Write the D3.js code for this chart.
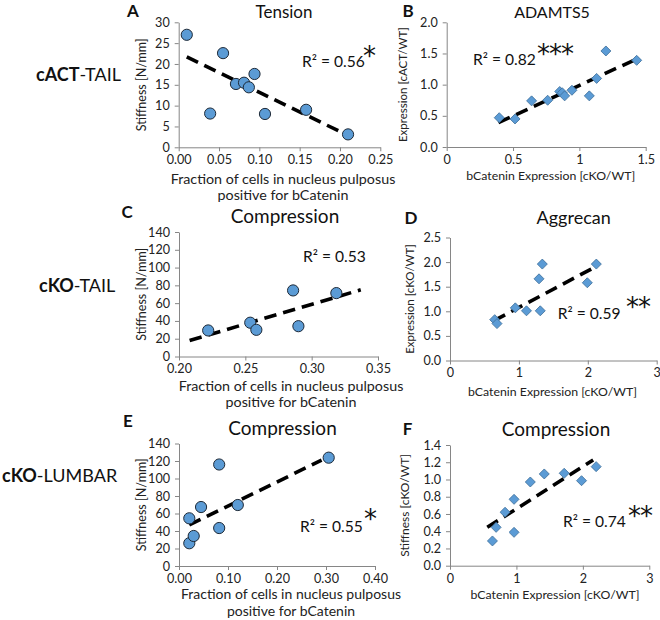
<!DOCTYPE html>
<html><head><meta charset="utf-8">
<script src="https://cdn.jsdelivr.net/npm/d3@7"></script>
<style>
body{margin:0;background:#fff;}
svg{display:block;font-family:Lato,"Open Sans",sans-serif;}
</style></head>
<body>
<svg id="c" width="660" height="620"></svg>
<script>
// ---- data ----
// Panel A: Tension (cACT-TAIL)
const aX = [0.010, 0.055, 0.039, 0.071, 0.081, 0.087, 0.094, 0.107, 0.158, 0.210];
const aY = [27.0, 22.6, 8.1, 15.2, 15.5, 14.4, 17.6, 8.0, 9.0, 3.1];
const aTrendX = [0.010, 0.205];
const aTrendY = [21.7, 3.3];
const aXTicks = [0, 0.05, 0.10, 0.15, 0.20, 0.25];
const aYTicks = [0, 5, 10, 15, 20, 25, 30];
// Panel B: ADAMTS5
const bX = [0.396, 0.515, 0.640, 0.761, 0.852, 0.871, 0.889, 0.944, 1.075, 1.130, 1.200, 1.432];
const bY = [0.47, 0.45, 0.74, 0.75, 0.89, 0.87, 0.82, 0.91, 0.82, 1.10, 1.54, 1.39];
const bTrendX = [0.39, 1.43];
const bTrendY = [0.39, 1.41];
const bXTicks = [0, 0.5, 1, 1.5];
const bYTicks = [0, 0.5, 1.0, 1.5, 2.0];
// Panel C: Compression (cKO-TAIL)
const cX = [0.222, 0.2537, 0.2583, 0.286, 0.290, 0.3186];
const cY = [29.3, 38, 30, 74.3, 34.1, 71.3];
const cTrendX = [0.208, 0.337];
const cTrendY = [18, 75];
const cXTicks = [0.20, 0.25, 0.30, 0.35];
const cYTicks = [0, 20, 40, 60, 80, 100, 120, 140];
// Panel D: Aggrecan
const dX = [0.649, 0.682, 0.948, 1.110, 1.310, 1.292, 1.340, 1.993, 2.124];
const dY = [0.83, 0.75, 1.07, 1.01, 1.01, 1.66, 1.96, 1.58, 1.96];
const dTrendX = [0.639, 2.105];
const dTrendY = [0.81, 1.90];
const dXTicks = [0, 1, 2, 3];
const dYTicks = [0, 0.5, 1.0, 1.5, 2.0, 2.5];
// Panel E: Compression (cKO-LUMBAR)
const eX = [0.021, 0.021, 0.030, 0.045, 0.082, 0.082, 0.120, 0.3055];
const eY = [54.5, 26, 34.3, 67.4, 116, 43.4, 69.7, 123.8];
const eTrendX = [0.021, 0.291];
const eTrendY = [46.9, 121];
const eXTicks = [0, 0.10, 0.20, 0.30, 0.40];
const eYTicks = [0, 20, 40, 60, 80, 100, 120, 140];
// Panel F: Compression stiffness ratio
const fX = [0.639, 0.694, 0.829, 0.964, 0.964, 1.209, 1.419, 1.719, 1.980, 2.200];
const fY = [0.287, 0.445, 0.62, 0.77, 0.387, 0.971, 1.064, 1.072, 0.986, 1.149];
const fTrendX = [0.561, 2.155];
const fTrendY = [0.445, 1.226];
const fXTicks = [0, 1, 2, 3];
const fYTicks = [0, 0.2, 0.4, 0.6, 0.8, 1.0, 1.2, 1.4];

const titles = ["Tension", "ADAMTS5", "Compression", "Aggrecan", "Compression", "Compression"];
const letters = ["A", "B", "C", "D", "E", "F"];
const r2Labels = ["R\u00B2 = 0.56", "R\u00B2 = 0.82", "R\u00B2 = 0.53", "R\u00B2 = 0.59", "R\u00B2 = 0.55", "R\u00B2 = 0.74"];
const stars = ["*", "***", "", "**", "*", "**"];
const yLabels = ["Stiffness [N/mm]", "Expression [cACT/WT]", "Stiffness [N/mm]", "Expression [cKO/WT]", "Stiffness [N/mm]", "Stiffness [cKO/WT]"];
const xLabelFraction = ["Fraction of cells in nucleus pulposus", "positive for bCatenin"];
const xLabelExpr = ["bCatenin Expression [cKO/WT]"];
const rowBold = ["cACT", "cKO", "cKO"];
const rowRest = ["-TAIL", "-TAIL", "-LUMBAR"];

// ---- layout ----
const svg = d3.select("#c");
const BLUE = "#5b9bd5";
const AXIS = "#868686";

const panels = [
  {xs:aX, ys:aY, tx:aTrendX, ty:aTrendY, xt:aXTicks, yt:aYTicks, xd:[0,0.25], yd:[0,30],
   px:[178.7,380.3], py:[147.3,22.3], xf:d3.format(".2f"), yf:d3.format("d"), mark:"circle",
   title:[284,11.5,17], letter:[133,11], r2:[302,61], star:[363,51], yl:[141,12.5], xl:xLabelFraction, xlp:[283,179,195], xls:14.3},
  {xs:bX, ys:bY, tx:bTrendX, ty:bTrendY, xt:bXTicks, yt:bYTicks, xd:[0,1.5], yd:[0,2],
   px:[446.7,645.7], py:[147,22.3], xf:d3.format("~g"), yf:d3.format(".1f"), mark:"diamond",
   title:[552,12,16], letter:[408,11], r2:[473,59], star:[537,49], yl:[403,11.5], xl:xLabelExpr, xlp:[550.7,176], xls:12.3},
  {xs:cX, ys:cY, tx:cTrendX, ty:cTrendY, xt:cXTicks, yt:cYTicks, xd:[0.2,0.35], yd:[0,140],
   px:[179,378], py:[356.5,232], xf:d3.format(".2f"), yf:d3.format("d"), mark:"circle",
   title:[285,216,19], letter:[127,212], r2:[303,256], star:null, yl:[141,12.5], xl:xLabelFraction, xlp:[291,386,402], xls:14.3},
  {xs:dX, ys:dY, tx:dTrendX, ty:dTrendY, xt:dXTicks, yt:dYTicks, xd:[0,3], yd:[0,2.5],
   px:[450,656.7], py:[360.5,237.5], xf:d3.format("d"), yf:d3.format(".1f"), mark:"diamond",
   title:[573.7,217.5,18], letter:[411,218], r2:[557.7,313], star:[626,302], yl:[410,11.5], xl:xLabelExpr, xlp:[552.5,392], xls:12.3},
  {xs:eX, ys:eY, tx:eTrendX, ty:eTrendY, xt:eXTicks, yt:eYTicks, xd:[0,0.4], yd:[0,140],
   px:[179,375], py:[566,443.5], xf:d3.format(".2f"), yf:d3.format("d"), mark:"circle",
   title:[282.5,428,19], letter:[128,421], r2:[300,526], star:[364,514], yl:[141,12.5], xl:xLabelFraction, xlp:[291,594,611], xls:14},
  {xs:fX, ys:fY, tx:fTrendX, ty:fTrendY, xt:fXTicks, yt:fYTicks, xd:[0,3], yd:[0,1.4],
   px:[450,649.3], py:[565.7,445], xf:d3.format("d"), yf:d3.format(".1f"), mark:"diamond",
   title:[556,429,19], letter:[407.5,429], r2:[563,521], star:[628,511], yl:[405,12], xl:xLabelExpr, xlp:[555,595], xls:12.3}
];

panels.forEach((p, i) => {
  const x = d3.scaleLinear().domain(p.xd).range(p.px);
  const y = d3.scaleLinear().domain(p.yd).range(p.py);
  const g = svg.append("g");

  // axes
  const xa = g.append("g").attr("transform", `translate(0,${p.py[0]})`)
    .call(d3.axisBottom(x).tickValues(p.xt).tickFormat(p.xf).tickSize(4).tickSizeOuter(0).tickPadding(4));
  const ya = g.append("g").attr("transform", `translate(${p.px[0]},0)`)
    .call(d3.axisLeft(y).tickValues(p.yt).tickFormat(p.yf).tickSize(4).tickSizeOuter(0).tickPadding(5));
  [xa, ya].forEach(a => {
    a.select(".domain").attr("stroke", AXIS).attr("stroke-width", 1);
    a.selectAll(".tick line").attr("stroke", AXIS);
    a.selectAll(".tick text").attr("fill", "#222").style("font-size", "12.6px").style("font-family", "Lato");
  });

  // trend line
  const tl = p.tx.map((v, k) => [v, p.ty[k]]);
  g.append("path").datum(tl)
    .attr("d", d3.line().x(d => x(d[0])).y(d => y(d[1])))
    .attr("stroke", "#000").attr("stroke-width", 3.6).attr("stroke-dasharray", "12.5,7").attr("fill", "none");

  // points
  const pts = p.xs.map((v, k) => [v, p.ys[k]]);
  if (p.mark === "circle") {
    g.selectAll("circle.pt").data(pts).join("circle").attr("class", "pt")
      .attr("cx", d => x(d[0])).attr("cy", d => y(d[1])).attr("r", 5.6)
      .attr("fill", BLUE).attr("stroke", "#1e2a38").attr("stroke-width", 1);
  } else {
    const sym = d3.symbol().type(d3.symbolSquare).size(50);
    g.selectAll("path.pt").data(pts).join("path").attr("class", "pt")
      .attr("d", sym)
      .attr("transform", d => `translate(${x(d[0])},${y(d[1])}) rotate(45)`)
      .attr("fill", BLUE).attr("stroke", "#41719c").attr("stroke-width", 0.8);
  }

  // title
  g.append("text").attr("x", p.title[0]).attr("y", p.title[1]).attr("dy", "0.36em")
    .attr("text-anchor", "middle").style("font-size", p.title[2] + "px").attr("fill", "#111").text(titles[i]);
  // letter
  g.append("text").attr("x", p.letter[0]).attr("y", p.letter[1]).attr("dy", "0.36em")
    .attr("text-anchor", "middle").style("font-size", "17px").style("font-weight", "bold").attr("fill", "#111").text(letters[i]);
  // R2
  g.append("text").attr("x", p.r2[0]).attr("y", p.r2[1]).attr("dy", "0.36em")
    .style("font-size", "15.6px").attr("fill", "#111").text(r2Labels[i]);
  if (p.star && stars[i]) {
    const fs = 26;
    g.append("text").attr("x", p.star[0]).attr("y", p.star[1] + 0.55 * fs)
      .style("font-size", fs + "px").style("font-family", "'DejaVu Sans', sans-serif")
      .attr("fill", "#111").attr("letter-spacing", "-1px").text(stars[i]);
  }
  // y label
  const ymid = (p.py[0] + p.py[1]) / 2;
  g.append("text").attr("transform", `translate(${p.yl[0]},${ymid}) rotate(-90)`).attr("dy", "0.36em")
    .attr("text-anchor", "middle").style("font-size", p.yl[1] + "px").attr("fill", "#222").text(yLabels[i]);
  // x label
  p.xl.forEach((t, k) => {
    g.append("text").attr("x", p.xlp[0]).attr("y", p.xlp[k + 1]).attr("dy", "0.36em")
      .attr("text-anchor", "middle").style("font-size", p.xls + "px").attr("fill", "#222").text(t);
  });
});

// row labels
const rowPos = [[36, 75], [39, 285.5], [2, 476]];
rowBold.forEach((b, k) => {
  const t = svg.append("text").attr("x", rowPos[k][0]).attr("y", rowPos[k][1]).attr("dy", "0.36em")
    .style("font-size", "18px").attr("fill", "#111");
  t.append("tspan").style("font-weight", "bold").text(b);
  t.append("tspan").text(rowRest[k]);
});
</script>
</body></html>
